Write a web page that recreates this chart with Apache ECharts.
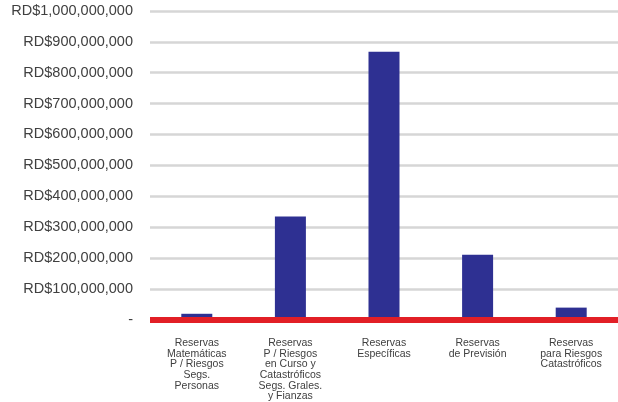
<!DOCTYPE html>
<html>
<head>
<meta charset="utf-8">
<script src="https://cdn.jsdelivr.net/npm/echarts@6/dist/echarts.min.js"></script>
<style>html,body{margin:0;padding:0;background:#fff}#c{width:618px;height:402px}</style>
</head>
<body>
<div id="c"></div>
<script>
var categories = [
  "Reservas\nMatemáticas\nP / Riesgos\nSegs.\nPersonas",
  "Reservas\nP / Riesgos\nen Curso y\nCatastróficos\nSegs. Grales.\ny Fianzas",
  "Reservas\nEspecíficas",
  "Reservas\nde Previsión",
  "Reservas\npara Riesgos\nCatastróficos"
];
var values = [19000000, 334000000, 868000000, 210000000, 39000000];
var yMin = 0, yMax = 1000000000, yStep = 100000000;

function fmt(v) {
  if (v === 0) return "-";
  return "RD$" + v.toString().replace(/\B(?=(\d{3})+(?!\d))/g, ",");
}

var chart = echarts.init(document.getElementById('c'), null, {renderer: 'canvas'});
chart.setOption({
  animation: false,
  textStyle: {fontFamily: "Liberation Sans, Arial, sans-serif"},
  grid: {left: 150, right: -2, top: 11, bottom: 82, containLabel: false},
  xAxis: {
    type: 'category',
    data: categories,
    z: 10,
    axisLine: {show: true, lineStyle: {color: '#e21f26', width: 6, cap: 'butt'}},
    axisTick: {show: false},
    axisLabel: {
      interval: 0, margin: 18, color: '#404040',
      fontSize: 10.5, lineHeight: 10.7, align: 'center', verticalAlign: 'top',
      fontFamily: "Liberation Sans, Arial, sans-serif"
    },
    splitLine: {show: false}
  },
  yAxis: {
    type: 'value',
    min: yMin, max: yMax, interval: yStep,
    axisLine: {show: false},
    axisTick: {show: false},
    axisLabel: {
      formatter: fmt, margin: 17, color: '#404040', fontSize: 14.5,
      fontFamily: "Liberation Sans, Arial, sans-serif"
    },
    splitLine: {lineStyle: {color: '#d6d6d6', width: 2.5}}
  },
  series: [{
    type: 'bar',
    data: values,
    barWidth: 31,
    itemStyle: {color: '#2e3092'}
  }]
});
</script>
</body>
</html>
